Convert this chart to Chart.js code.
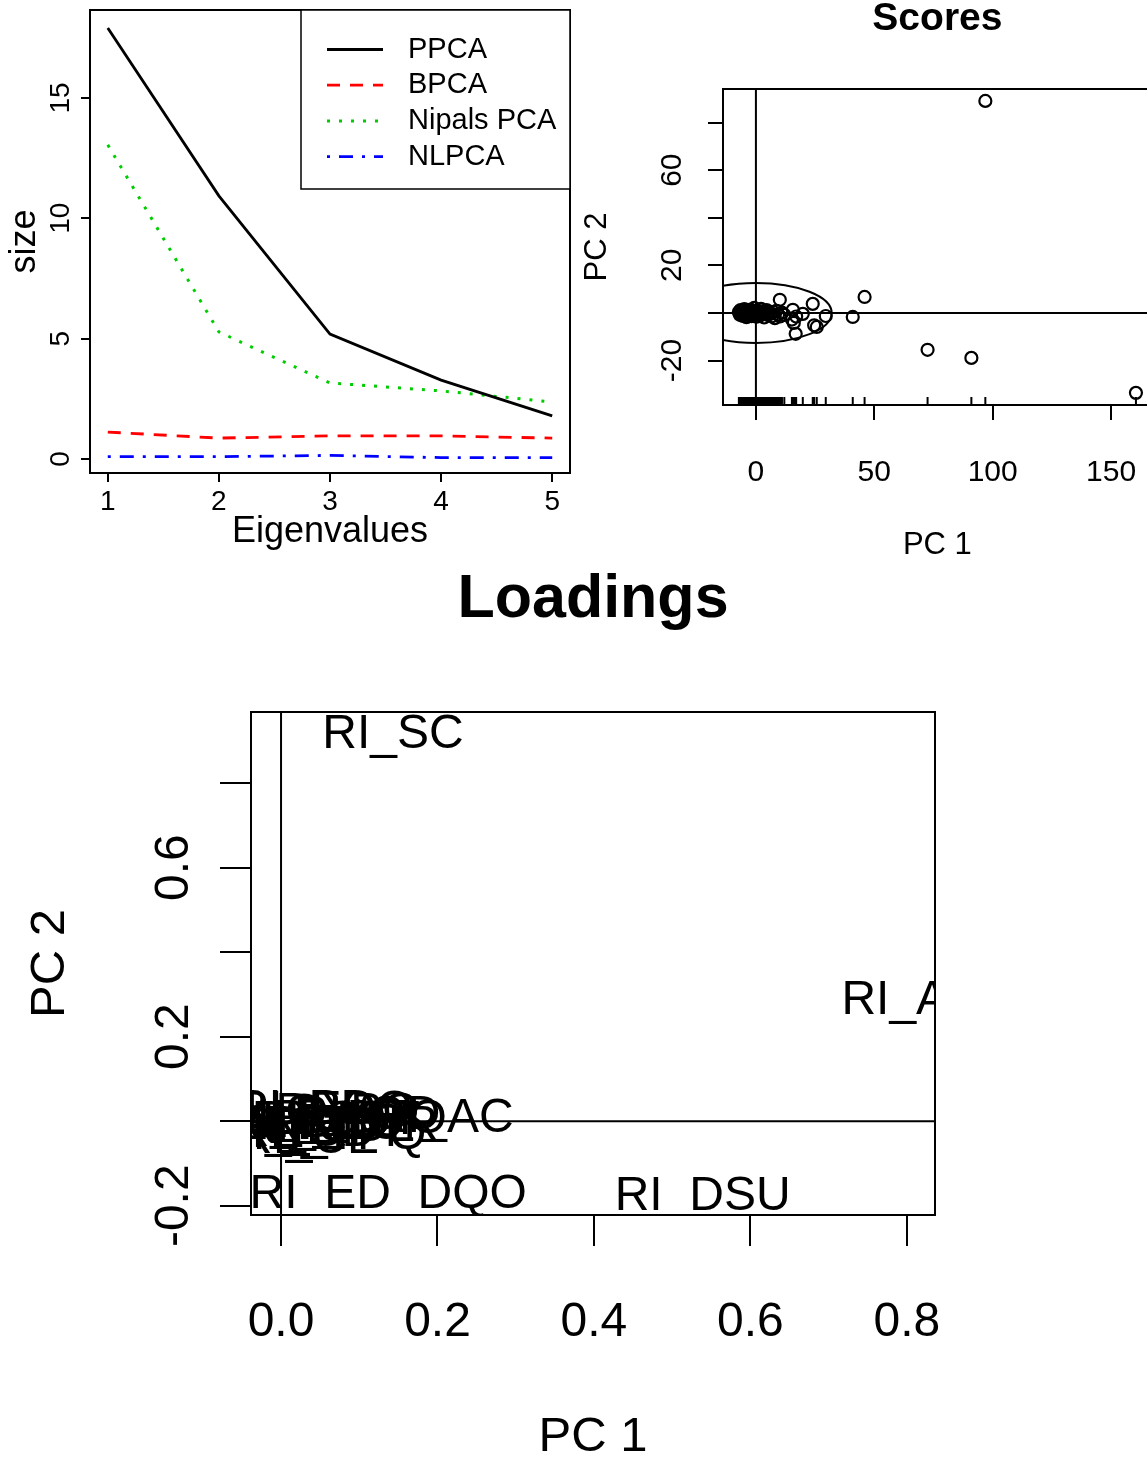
<!DOCTYPE html>
<html>
<head>
<meta charset="utf-8">
<script src="https://cdn.jsdelivr.net/npm/chart.js@4.4.1/dist/chart.umd.min.js"></script>
<style>
html, body { margin: 0; padding: 0; background: #fff; overflow: hidden; width: 1147px; height: 1459px; }
canvas { position: absolute; left: 0; top: 0; pointer-events: none; }
</style>
</head>
<body>
<canvas id="eig" width="1160" height="1459"></canvas>
<canvas id="scores" width="1160" height="1459"></canvas>
<canvas id="load" width="1160" height="1459"></canvas>
<script>
// --- eigenvalue panel ---
const eigIndex = [1, 2, 3, 4, 5];
const ppca = [17.9, 10.93, 5.19, 3.28, 1.79];
const bpca = [1.12, 0.87, 0.96, 0.96, 0.87];
const nipals = [13.05, 5.28, 3.16, 2.83, 2.37];
const nlpca = [0.1, 0.1, 0.15, 0.06, 0.06];
const eigTicks = [1, 2, 3, 4, 5];
const sizeTicks = [0, 5, 10, 15];

// --- scores panel ---
const scoreX = [10.1, 24, 19.8, 29.5, 40.9, 45.9, 16.8, 25.7, 24.6, 16, 15.6, 17, 15.2, 72.5, 91, 96.9, 160.5,
  -7.2, -6.8, -6.5, -6.1, -5.8, -5.5, -5.2, -4.9, -4.6, -4.3, -4.0, -3.7, -3.4, -3.1, -2.8, -2.5, -2.2, -1.9,
  -1.6, -1.3, -1.0, -0.7, -0.4, -0.1, 0.3, 0.6, 1.0, 1.4, 1.8, 2.2, 2.6, 3.0, 3.5, 4.0, 4.5, 5.0, 5.6, 6.2,
  6.8, 7.4, 8.0, 8.7, 9.4, 10.2, 11.0, 12.0];
const scoreY = [5.5, 3.8, -0.4, -1.3, -1.7, 6.7, -8.8, -5.9, -5.2, -4.2, 1.3, -1.5, -2.8, -15.5, -18.9, 89.1, -33.6,
  0.4, -0.8, 1.2, -0.2, 0.9, -1.3, 0.3, 1.6, -0.6, 0.7, -1.8, 0.1, 1.1, -0.9, 0.5, -0.3, 1.4, -1.4,
  0.2, 0.9, -0.7, 2.1, -0.1, 0.6, -1.6, 1.0, -0.4, 0.3, -1.1, 1.7, -0.2, 0.8, -1.9, 0.2, 1.2, -0.9, 0.5, -0.3,
  -1.4, 0.4, -2.2, 0.9, -0.6, -1.5, 0.1, -0.8];
const scoreXTicks = [0, 50, 100, 150];
const scoreYTicks = [-20, 0, 20, 40, 60, 80];
const scoreYShown = [-20, 20, 60];
const ellipseRx = 32;   // Hotelling ellipse half-widths, PC units
const ellipseRy = 12.6;

// --- loadings panel ---
const loadNames = ['RI_SC', 'RI_AT', 'RI_ED_DQO', 'RI_DSU', 'RI_PD', 'RI_EDO', 'RI_PO', 'RI_OD', 'RI_PH',
  'RI_DBO', 'RI_SST', 'RI_NT', 'RI_PT', 'RI_TPQ', 'RI_CE', 'RI_AC',
  'RI_COL', 'RI_GYA', 'RI_TUR', 'RI_FT', 'RI_DTO', 'RI_SDT'];
const loadX = [0.143, 0.801, 0.137, 0.539, 0.03, 0.055, 0.085, 0.11, 0.015, 0.045, 0.07, 0.025, 0.005, 0.075, 0.035, 0.207,
  0.06, 0.02, 0.09, 0.01, 0.1, 0.05];
const loadY = [0.914, 0.286, -0.175, -0.18, 0.028, 0.024, 0.02, 0.012, 0.005, -0.005, 0.0, -0.02, -0.03, -0.035, -0.045, 0.005,
  -0.015, 0.018, -0.01, -0.012, 0.004, -0.028];
const loadXTicks = [0, 0.2, 0.4, 0.6, 0.8];
const loadYTicks = [-0.2, 0, 0.2, 0.4, 0.6, 0.8];
const loadYShown = [-0.2, 0.2, 0.6];

const FONT = '"Liberation Sans", Arial, Helvetica, sans-serif';
const PAGE_H = 1459;
Chart.defaults.font.family = FONT;
Chart.defaults.color = '#000';

function pts(xs, ys) { return xs.map((x, i) => ({ x: x, y: ys[i] })); }

function txt(ctx, s, x, y, size, o) {
  o = o || {};
  ctx.save();
  ctx.font = (o.bold ? 'bold ' : '') + size + 'px ' + FONT;
  ctx.fillStyle = '#000';
  ctx.textAlign = o.align || 'center';
  ctx.textBaseline = 'middle';
  ctx.translate(x, y);
  if (o.rot) ctx.rotate(-Math.PI / 2);
  ctx.fillText(s, 0, 0);
  ctx.restore();
}

// x axis keeps a fixed band below the plot so its labels are not clipped
function axisX(o) {
  return {
    type: 'linear', position: 'bottom', min: o.min, max: o.max,
    afterBuildTicks: s => { s.ticks = o.ticks.map(v => ({ value: v })); },
    afterFit: s => { s.height = o.h; s.paddingLeft = 0; s.paddingRight = 0; },
    grid: { display: true, drawOnChartArea: false, drawTicks: true, tickLength: o.tl, color: '#000', lineWidth: 2 },
    border: { display: false },
    ticks: { autoSkip: false, maxRotation: 0, minRotation: 0, padding: o.pad, color: '#000',
      font: { size: o.size, family: FONT }, callback: v => o.fmt(v) }
  };
}

function axisY(o) {
  return {
    type: 'linear', position: 'left', min: o.min, max: o.max,
    afterBuildTicks: s => { s.ticks = o.ticks.map(v => ({ value: v })); },
    afterFit: s => { s.width = 0; s.paddingTop = 0; s.paddingBottom = 0; },
    grid: { display: true, drawOnChartArea: false, drawTicks: true, tickLength: o.tl, color: '#000', lineWidth: 2 },
    border: { display: false },
    ticks: { display: false }
  };
}

// plot box at page coords, leaving room for the x-axis band
function area(left, top, right, bottom, band) {
  return { left: left, top: top, right: 1160 - right, bottom: PAGE_H - bottom - band };
}

// box, rotated y labels and axis titles, R style
function frame(cfg) {
  return {
    id: 'frame_' + cfg.name,
    afterDraw(chart) {
      const ctx = chart.ctx, a = chart.chartArea, ys = chart.scales.y;
      ctx.save();
      ctx.strokeStyle = '#000';
      ctx.lineWidth = 2;
      ctx.strokeRect(a.left, a.top, a.right - a.left, a.bottom - a.top);
      ctx.restore();
      ys.ticks.forEach(t => {
        if (cfg.yShown.includes(t.value))
          txt(ctx, cfg.yFmt(t.value), cfg.yLabelX, ys.getPixelForValue(t.value), cfg.tickSize, { rot: true });
      });
      const cx = (a.left + a.right) / 2, cy = (a.top + a.bottom) / 2;
      txt(ctx, cfg.xTitle, cx, cfg.xTitleY, cfg.titleSize);
      txt(ctx, cfg.yTitle, cfg.yTitleX, cy, cfg.titleSize, { rot: true });
      if (cfg.main) txt(ctx, cfg.main, cx, cfg.mainY, cfg.mainSize, { bold: true });
    }
  };
}

// cross lines through the origin
const abline = {
  id: 'abline',
  afterDatasetsDraw(chart) {
    const ctx = chart.ctx, a = chart.chartArea;
    const x0 = chart.scales.x.getPixelForValue(0), y0 = chart.scales.y.getPixelForValue(0);
    ctx.save();
    ctx.strokeStyle = '#000';
    ctx.lineWidth = 2;
    ctx.beginPath();
    ctx.moveTo(x0, a.top); ctx.lineTo(x0, a.bottom);
    ctx.moveTo(a.left, y0); ctx.lineTo(a.right, y0);
    ctx.stroke();
    ctx.restore();
  }
};

const eigLegend = {
  id: 'eigLegend',
  afterDraw(chart) {
    const ctx = chart.ctx, a = chart.chartArea;
    const w = 269, h = 179, left = a.right - w, top = a.top;
    ctx.save();
    ctx.fillStyle = '#fff';
    ctx.fillRect(left, top, w, h);
    ctx.strokeStyle = '#000';
    ctx.lineWidth = 1.5;
    ctx.strokeRect(left, top, w, h);
    chart.data.datasets.forEach((ds, i) => {
      const y = top + 39.5 + i * 35.7;
      ctx.save();
      ctx.strokeStyle = ds.borderColor;
      ctx.lineWidth = ds.borderWidth || 2.8;
      ctx.setLineDash(ds.borderDash || []);
      ctx.beginPath();
      ctx.moveTo(left + 26, y); ctx.lineTo(left + 82, y);
      ctx.stroke();
      ctx.restore();
      txt(ctx, ds.label, left + 107, y, 29, { align: 'left' });
    });
    ctx.restore();
  }
};

new Chart(document.getElementById('eig'), {
  type: 'line',
  data: {
    datasets: [
      { label: 'PPCA', data: pts(eigIndex, ppca), borderColor: '#000000', borderDash: [] },
      { label: 'BPCA', data: pts(eigIndex, bpca), borderColor: '#FF0000', borderDash: [13, 10] },
      { label: 'Nipals PCA', data: pts(eigIndex, nipals), borderColor: '#00CD00', borderDash: [3, 9], borderWidth: 3 },
      { label: 'NLPCA', data: pts(eigIndex, nlpca), borderColor: '#0000FF', borderDash: [3, 9, 14, 9] }
    ]
  },
  options: {
    responsive: false, animation: false, events: [], devicePixelRatio: 1,
    layout: { padding: area(90, 10, 570, 473, 60) },
    elements: { line: { borderWidth: 2.8, tension: 0, fill: false }, point: { radius: 0 } },
    plugins: { legend: { display: false }, tooltip: { enabled: false } },
    scales: {
      x: axisX({ min: 0.84, max: 5.16, ticks: eigTicks, tl: 9, pad: 3, size: 28, h: 60, fmt: v => String(v) }),
      y: axisY({ min: -0.58, max: 18.65, ticks: sizeTicks, tl: 9 })
    }
  },
  plugins: [frame({ name: 'eig', yShown: sizeTicks, yFmt: v => String(v), yLabelX: 61, tickSize: 28,
    xTitle: 'Eigenvalues', xTitleY: 532, yTitle: 'size', yTitleX: 25, titleSize: 36 }), eigLegend]
});

const scoreExtras = {
  id: 'scoreExtras',
  beforeDatasetsDraw(chart) {
    const ctx = chart.ctx, a = chart.chartArea, xs = chart.scales.x, ys = chart.scales.y;
    const cx = xs.getPixelForValue(0), cy = ys.getPixelForValue(0);
    const rx = Math.abs(xs.getPixelForValue(ellipseRx) - cx), ry = Math.abs(ys.getPixelForValue(ellipseRy) - cy);
    ctx.save();
    ctx.beginPath();
    ctx.rect(a.left, a.top, a.right - a.left, a.bottom - a.top);
    ctx.clip();
    ctx.strokeStyle = '#000';
    ctx.lineWidth = 2;
    ctx.beginPath();
    ctx.ellipse(cx, cy, rx, ry, 0, 0, Math.PI * 2);
    ctx.stroke();
    // rug along the bottom
    ctx.lineWidth = 2;
    ctx.beginPath();
    scoreX.forEach(v => {
      const px = xs.getPixelForValue(v);
      ctx.moveTo(px, a.bottom); ctx.lineTo(px, a.bottom - 8);
    });
    ctx.stroke();
    ctx.restore();
  }
};

new Chart(document.getElementById('scores'), {
  type: 'scatter',
  data: {
    datasets: [{ label: 'scores', data: pts(scoreX, scoreY), pointStyle: 'circle', pointRadius: 6,
      borderColor: '#000', backgroundColor: 'rgba(0,0,0,0)', borderWidth: 2.2 }]
  },
  options: {
    responsive: false, animation: false, events: [], devicePixelRatio: 1,
    layout: { padding: area(723, 89, 1153, 405, 100) },
    plugins: { legend: { display: false }, tooltip: { enabled: false } },
    scales: {
      x: axisX({ min: -13.9, max: 167.2, ticks: scoreXTicks, tl: 15, pad: 35, size: 30, h: 100, fmt: v => String(v) }),
      y: axisY({ min: -38.7, max: 94.1, ticks: scoreYTicks, tl: 15 })
    }
  },
  plugins: [scoreExtras, abline, frame({ name: 'scores', yShown: scoreYShown, yFmt: v => String(v), yLabelX: 673,
    tickSize: 30, xTitle: 'PC 1', xTitleY: 545, yTitle: 'PC 2', yTitleX: 597, titleSize: 31,
    main: 'Scores', mainY: 19, mainSize: 39 })]
});

const loadLabels = {
  id: 'loadLabels',
  afterDatasetsDraw(chart) {
    const ctx = chart.ctx, a = chart.chartArea;
    const meta = chart.getDatasetMeta(0);
    ctx.save();
    ctx.beginPath();
    ctx.rect(a.left, a.top, a.right - a.left, a.bottom - a.top);
    ctx.clip();
    meta.data.forEach((el, i) => txt(ctx, loadNames[i], el.x, el.y, 48));
    ctx.restore();
  }
};

new Chart(document.getElementById('load'), {
  type: 'scatter',
  data: { datasets: [{ label: 'loadings', data: pts(loadX, loadY), pointRadius: 0 }] },
  options: {
    responsive: false, animation: false, events: [], devicePixelRatio: 1,
    layout: { padding: area(251, 712, 935, 1215, 150) },
    plugins: { legend: { display: false }, tooltip: { enabled: false } },
    scales: {
      x: axisX({ min: -0.0384, max: 0.836, ticks: loadXTicks, tl: 31, pad: 48, size: 48, h: 150, fmt: v => v.toFixed(1) }),
      y: axisY({ min: -0.222, max: 0.968, ticks: loadYTicks, tl: 31 })
    }
  },
  plugins: [abline, loadLabels, frame({ name: 'load', yShown: loadYShown, yFmt: v => v.toFixed(1), yLabelX: 175,
    tickSize: 48, xTitle: 'PC 1', xTitleY: 1437, yTitle: 'PC 2', yTitleX: 50, titleSize: 49,
    main: 'Loadings', mainY: 600, mainSize: 61 })]
});
</script>
</body>
</html>
